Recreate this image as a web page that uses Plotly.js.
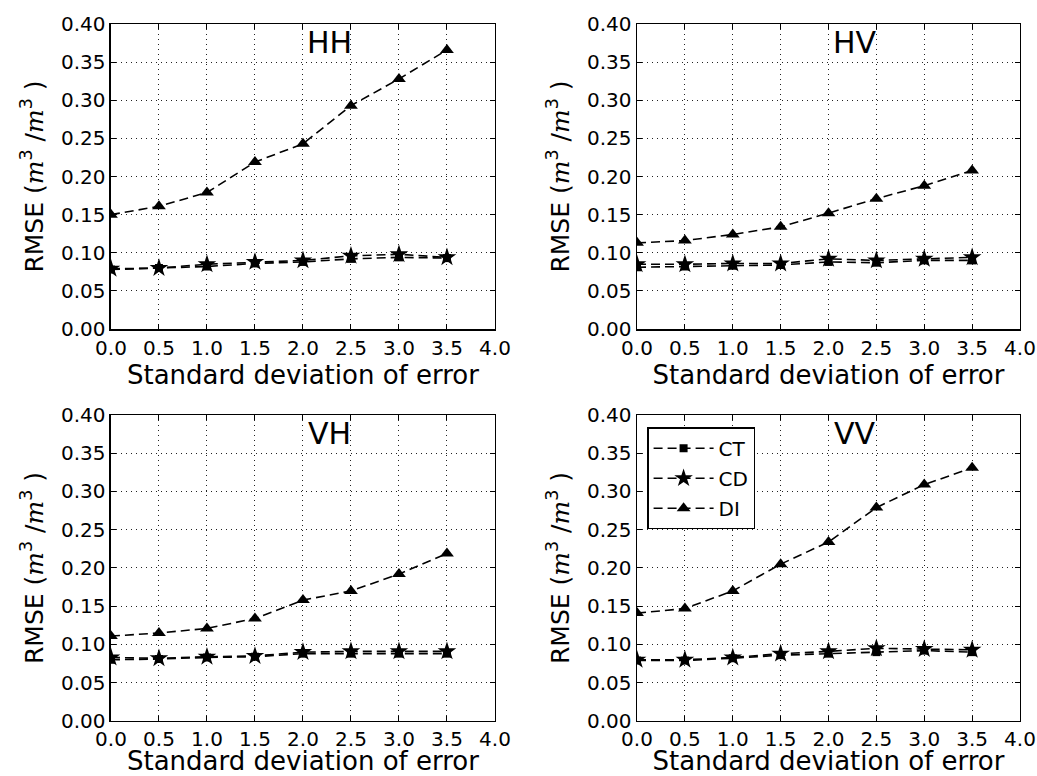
<!DOCTYPE html>
<html>
<head>
<meta charset="utf-8">
<script src="https://cdn.plot.ly/plotly-3.0.1.min.js"></script>
<style>html,body{margin:0;padding:0;background:#fff;}</style>
</head>
<body>
<div id="chart" style="width:1037px;height:776px;"></div>
<script>
// ---- data ----
const stdError = [0.0, 0.5, 1.0, 1.5, 2.0, 2.5, 3.0, 3.5];
const panelNames = ["HH", "HV", "VH", "VV"];
const seriesNames = ["CT", "CD", "DI"];

const HH_CT = [0.078, 0.080, 0.082, 0.086, 0.088, 0.092, 0.094, 0.093];
const HH_CD = [0.079, 0.080, 0.085, 0.088, 0.090, 0.096, 0.098, 0.094];
const HH_DI = [0.150, 0.161, 0.179, 0.219, 0.243, 0.293, 0.328, 0.366];

const HV_CT = [0.081, 0.082, 0.083, 0.084, 0.088, 0.087, 0.090, 0.090];
const HV_CD = [0.085, 0.085, 0.086, 0.086, 0.092, 0.090, 0.092, 0.094];
const HV_DI = [0.113, 0.116, 0.124, 0.134, 0.152, 0.171, 0.188, 0.208];

const VH_CT = [0.080, 0.081, 0.083, 0.084, 0.088, 0.088, 0.088, 0.088];
const VH_CD = [0.083, 0.082, 0.084, 0.085, 0.090, 0.091, 0.091, 0.091];
const VH_DI = [0.111, 0.115, 0.121, 0.134, 0.158, 0.170, 0.192, 0.219];

const VV_CT = [0.079, 0.079, 0.082, 0.086, 0.088, 0.090, 0.092, 0.090];
const VV_CD = [0.080, 0.080, 0.083, 0.088, 0.091, 0.095, 0.094, 0.093];
const VV_DI = [0.141, 0.147, 0.170, 0.205, 0.234, 0.279, 0.309, 0.331];

const panelData = [
  [HH_CT, HH_CD, HH_DI],
  [HV_CT, HV_CD, HV_DI],
  [VH_CT, VH_CD, VH_DI],
  [VV_CT, VV_CD, VV_DI]
];

const xTickVals = [0, 0.5, 1.0, 1.5, 2.0, 2.5, 3.0, 3.5, 4.0];
const yTickVals = [0, 0.05, 0.10, 0.15, 0.20, 0.25, 0.30, 0.35, 0.40];

// ---- styles ----
const markerSymbols = ["square", "star", "triangle-up"];
const markerSizes = [8, 14, 12];
const FONT = "DejaVu Sans, sans-serif";

const traces = [];
panelData.forEach((series, p) => {
  const ax = p === 0 ? "" : String(p + 1);
  series.forEach((vals, s) => {
    traces.push({
      x: stdError, y: vals,
      xaxis: "x" + ax, yaxis: "y" + ax,
      type: "scatter", mode: "lines+markers",
      name: seriesNames[s],
      legendgroup: seriesNames[s],
      showlegend: p === 3,
      line: {color: "black", width: 1.6, dash: "9px,5px"},
      marker: {symbol: markerSymbols[s], size: markerSizes[s], color: "black", line: {width: 0}}
    });
  });
});

const xDomains = [[0.107, 0.4773], [0.6143, 0.9836]];
const yDomains = [[0.576, 0.969], [0.0709, 0.4652]];

const yTitle = 'RMSE (<span style="font-family:DejaVu Serif"><i>m</i></span><sup>3</sup> /<span style="font-family:DejaVu Serif"><i>m</i></span><sup>3</sup> )';

const layout = {
  width: 1037, height: 776,
  margin: {l: 0, r: 0, t: 0, b: 0},
  paper_bgcolor: "white", plot_bgcolor: "white",
  font: {family: FONT, size: 20, color: "black"},
  showlegend: true,
  legend: {
    x: 0.624, y: 0.4495, xanchor: "left", yanchor: "top",
    bgcolor: "white", bordercolor: "black", borderwidth: 1.5,
    font: {family: FONT, size: 20},
    itemwidth: 60, tracegroupgap: 1
  },
  annotations: []
};

panelNames.forEach((name, p) => {
  const ax = p === 0 ? "" : String(p + 1);
  const col = p % 2, row = Math.floor(p / 2);
  layout["xaxis" + ax] = {
    domain: xDomains[col], anchor: "y" + ax,
    range: [0, 4], tickvals: xTickVals, tickformat: ".1f",
    ticks: "inside", ticklen: 5, tickcolor: "black",
    showline: true, linecolor: "black", linewidth: 1.5, mirror: "ticks",
    showgrid: true, gridcolor: "#222", gridwidth: 1, griddash: "1px,4px",
    zeroline: false,
    tickfont: {family: FONT, size: 20},
    title: {text: "Standard deviation of error", font: {family: FONT, size: 26}, standoff: 6}
  };
  layout["yaxis" + ax] = {
    domain: yDomains[row], anchor: "x" + ax,
    range: [0, 0.4], tickvals: yTickVals, tickformat: ".2f",
    ticks: "inside", ticklen: 5, tickcolor: "black",
    showline: true, linecolor: "black", linewidth: 1.5, mirror: "ticks",
    showgrid: true, gridcolor: "#222", gridwidth: 1, griddash: "1px,4px",
    zeroline: false,
    tickfont: {family: FONT, size: 20},
    title: {text: yTitle, font: {family: FONT, size: 25}, standoff: 10}
  };
  layout.annotations.push({
    text: name, x: 2.28, y: 0.376, xref: "x" + ax, yref: "y" + ax,
    showarrow: false, xanchor: "center", yanchor: "middle",
    font: {family: FONT, size: 30, color: "black"}
  });
});

Plotly.newPlot("chart", traces, layout, {displayModeBar: false, staticPlot: true});
</script>
</body>
</html>
